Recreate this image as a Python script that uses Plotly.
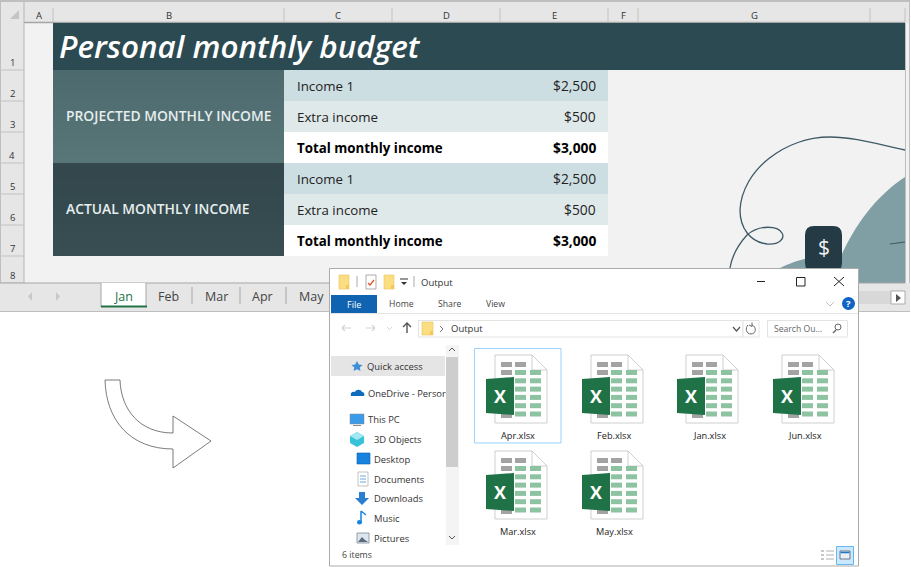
import plotly.graph_objects as go

# ---------- content ----------
TITLE = "Personal monthly budget"
COLUMN_LETTERS = ["A", "B", "C", "D", "E", "F", "G"]
COLUMN_EDGES = [24, 53, 284, 392, 500, 608, 638, 870, 905]
ROW_NUMBERS = ["1", "2", "3", "4", "5", "6", "7", "8"]
ROW_EDGES = [23, 70, 101, 132, 163, 194, 225, 256, 283]
SECTIONS = ["PROJECTED MONTHLY INCOME", "ACTUAL MONTHLY INCOME"]
ITEM_LABELS = ["Income 1", "Extra income", "Total monthly income"]
ITEM_VALUES = ["$2,500", "$500", "$3,000"]
SHEET_TABS = ["Jan", "Feb", "Mar", "Apr", "May"]
TAB_CENTERS = [123, 168, 216, 262, 311]
FILES_ROW1 = ["Apr.xlsx", "Feb.xlsx", "Jan.xlsx", "Jun.xlsx"]
FILES_ROW2 = ["Mar.xlsx", "May.xlsx"]
NAV_ITEMS = ["Quick access", "OneDrive - Persor", "This PC", "3D Objects", "Desktop",
             "Documents", "Downloads", "Music", "Pictures"]
NAV_X = [367, 368, 368, 374, 374, 374, 374, 374, 374]
NAV_Y = [366, 393, 419, 439, 459, 479, 498, 518, 538]
RIBBON = ["Home", "Share", "View"]
RIBBON_X = [401, 449, 495]

FONT = "Open Sans"
shapes, notes = [], []


def rect(x0, y0, x1, y1, fill="rgba(0,0,0,0)", line=None, w=1):
    shapes.append(dict(type="rect", x0=x0, y0=y0, x1=x1, y1=y1, fillcolor=fill,
                       line=dict(color=line or "rgba(0,0,0,0)", width=w if line else 0)))


def path(d, fill="rgba(0,0,0,0)", line=None, w=1):
    shapes.append(dict(type="path", path=d, fillcolor=fill,
                       line=dict(color=line or "rgba(0,0,0,0)", width=w if line else 0)))


def seg(x0, y0, x1, y1, color, w=1):
    shapes.append(dict(type="line", x0=x0, y0=y0, x1=x1, y1=y1, line=dict(color=color, width=w)))


def text(x, y, s, size=10, color="#333333", anchor="left", family=FONT, weight=None):
    f = dict(family=family, size=size, color=color)
    if weight:
        f["weight"] = weight
    notes.append(dict(x=x, y=y, text=s, showarrow=False, xanchor=anchor, yanchor="middle",
                      xref="x", yref="y", align=anchor, borderpad=0, borderwidth=0, font=f))


def folder(x, y, w=11, h=14):
    rect(x, y, x + w, y + h, "#FBDD82", "#E8C25C", 0.6)
    rect(x + w - 3, y + h - 4, x + w, y + h, "#F2C75C")


def rounded(x0, y0, x1, y1, r):
    return (f"M{x0+r},{y0} L{x1-r},{y0} Q{x1},{y0} {x1},{y0+r} L{x1},{y1-r} Q{x1},{y1} {x1-r},{y1} "
            f"L{x0+r},{y1} Q{x0},{y1} {x0},{y1-r} L{x0},{y0+r} Q{x0},{y0} {x0+r},{y0} Z")


# ---------- Excel window ----------
rect(0, 0, 911, 567, "#FFFFFF")
rect(0, 0, 910, 312, "#F2F2F2")
rect(0, 0, 910, 23, "#E6E6E6")
rect(0, 0, 24, 283, "#E6E6E6")
seg(0, 1, 910, 1, "#BFBFBF", 2)
seg(0.5, 0, 0.5, 312, "#BFBFBF", 1)
seg(909.5, 0, 909.5, 312, "#BFBFBF", 1)
seg(0, 311.5, 910, 311.5, "#BFBFBF", 1)
seg(24, 22.5, 905, 22.5, "#A6A6A6", 1.5)
seg(24, 2, 24, 283, "#B5B5B5", 1)
path("M19,10 L19,19 L10,19 Z", "#C4C4C4")
for edge in COLUMN_EDGES[1:]:
    seg(edge, 8, edge, 22, "#C2C2C2", 1)
for i, letter in enumerate(COLUMN_LETTERS):
    text((COLUMN_EDGES[i] + COLUMN_EDGES[i + 1]) / 2, 15, letter, 9.5, "#333333", "center")
for i, number in enumerate(ROW_NUMBERS):
    text(12, ROW_EDGES[i + 1] - 8, number, 9.5, "#333333", "center")
    seg(0, ROW_EDGES[i + 1], 24, ROW_EDGES[i + 1], "#C2C2C2", 1)

# banner and cells
rect(53, 23, 905, 70, "#2C4A51")
text(59, 45, f"<i>{TITLE}</i>", 31.4, "#FFFFFF", weight=600)
START = ["#4D6A6E", "#33474C"]
END = ["#587578", "#384E52"]


def mix(a, b, t):
    return "#" + "".join(f"{round(int(a[i:i+2],16)*(1-t)+int(b[i:i+2],16)*t):02X}" for i in (1, 3, 5))


BANDS = ["#CDDEE3", "#E0E9EA", "#FFFFFF"]
for s, section in enumerate(SECTIONS):
    top = ROW_EDGES[1 + 3 * s]
    bottom = ROW_EDGES[4 + 3 * s]
    for k in range(12):
        rect(53, round(top + (bottom - top) * k / 12), 284, bottom, mix(START[s], END[s], k / 11))
    text(66, (top + bottom) / 2 - 1, section, 13.85, "#E6EEEE", weight=600)
    for i in range(3):
        y0, y1 = ROW_EDGES[1 + 3 * s + i], ROW_EDGES[2 + 3 * s + i]
        rect(284, y0, 608, y1, BANDS[i])
        bold = i == 2
        lab = f"<b>{ITEM_LABELS[i]}</b>" if bold else ITEM_LABELS[i]
        val = f"<b>{ITEM_VALUES[i]}</b>" if bold else ITEM_VALUES[i]
        text(297, (y0 + y1) / 2, lab, 13.3, "#000000" if bold else "#222222")
        text(596, (y0 + y1) / 2, val, 13.8, "#000000" if bold else "#222222", "right")

# decoration
path("M905,177 C875,197 855,225 841,256 L841,284 L905,284 Z", "#7F9FA4")
path("M776,270 C790,263 800,259 812,258 L842,254 L842,284 L776,284 Z", "#7F9FA4")
path("M905,150 C880,145 855,137 830,137 C785,137 742,170 740,210 C740,228 750,242 767,244 "
     "C780,245 785,238 782,233 C778,226 760,224 747,235 C738,245 732,255 730,268",
     line="#3E5A66", w=1.3)
seg(890, 244, 905, 242, "#3E5A66", 1.2)
seg(905.5, 23, 905.5, 283, "#BDBDBD", 1)
path(rounded(805, 226, 842, 272, 9), "#243A45")
text(823.5, 247, "$", 21, "#F2F2F2", "center")

# sheet tabs
rect(0, 283, 910, 311, "#E6E6E6")
seg(0, 283, 905, 283, "#A6A6A6", 1)
rect(101, 283, 146, 306, "#FFFFFF")
seg(101, 283, 101, 307, "#A6A6A6", 1)
seg(146, 283, 146, 307, "#A6A6A6", 1)
seg(101, 306.5, 147, 306.5, "#217346", 2)
for x in [192, 240, 286]:
    seg(x, 287, x, 304, "#A6A6A6", 1)
for x, dir_ in [(30, -1), (58, 1)]:
    path(f"M{x-dir_*2},292 L{x+dir_*2},296.5 L{x-dir_*2},301 Z", "#C8C8C8")
for i, tab in enumerate(SHEET_TABS):
    text(TAB_CENTERS[i], 296, tab, 12.5, "#217346" if i == 0 else "#444444", "center")
rect(858, 291, 891, 304, "#D8D8D8")
rect(891, 291, 905, 304, "#FFFFFF", "#ABABAB", 1)
path("M896,294 L896,302 L901,298 Z", "#555555")

# big arrow
path("M105,380 L120,380 C121,410 140,433 173,433 L173,416 L211,441 L173,468 L173,449 "
     "C130,449 106,420 105,380 Z", "#FFFFFF", "#444444", 0.7)

# ---------- Explorer window ----------
rect(329.5, 268.5, 858.5, 566, "#FFFFFF", "#ABABAB", 1)
folder(339, 275, 10, 14)
seg(357, 276, 357, 287, "#AAAAAA", 1)
rect(366, 275, 376, 289, "#FFFFFF", "#8A8A8A", 0.7)
path("M368,283 L370,285 L374,280", line="#E0552E", w=1.3)
folder(384, 275, 10, 14)
seg(400, 279, 408, 279, "#333333", 1)
path("M401,282 L407,282 L404,285 Z", "#333333")
seg(414, 276, 414, 287, "#AAAAAA", 1)
text(421, 282, "Output", 9.5, "#333333")
seg(757, 281.5, 765, 281.5, "#222222", 1)
rect(796.5, 277.5, 805, 286, "#FFFFFF", "#222222", 1)
seg(834, 277, 844, 286, "#222222", 1)
seg(844, 277, 834, 286, "#222222", 1)

rect(331, 295, 377, 313, "#0F63B0")
text(354, 304, "File", 9, "#FFFFFF", "center")
for i, item in enumerate(RIBBON):
    text(RIBBON_X[i], 304, item, 8.7, "#444444", "center")
seg(330, 313.5, 858, 313.5, "#E4E4E4", 1)
path("M826,302 L830,306 L834,302", line="#C0C0C0", w=1)
shapes.append(dict(type="circle", x0=842, y0=297, x1=855, y1=310, fillcolor="#0F63C4", line=dict(width=0)))
text(848.5, 303.5, "<b>?</b>", 9.5, "#FFFFFF", "center")

# nav bar
path("M342,328 L351,328 M342,328 L345,325 M342,328 L345,331", line="#D4D4D4", w=1.2)
path("M375,328 L366,328 M375,328 L372,325 M375,328 L372,331", line="#D4D4D4", w=1.2)
path("M387,327 L389.5,329.5 L392,327", line="#D4D4D4", w=1)
path("M407,333 L407,323 M403,327 L407,323 L411,327", line="#555555", w=1.4)
rect(418.5, 320.5, 743, 337, "#FFFFFF", "#E3E3E3", 1)
folder(422, 322, 11, 13)
path("M440,326 L443,329 L440,332", line="#777777", w=1)
text(451, 328.5, "Output", 9.5, "#333333")
path("M733,327 L736.5,331 L740,327", line="#555555", w=1.2)
rect(743, 320.5, 759, 337, "#FFFFFF", "#E3E3E3", 1)
path("M748,325 C745,328 746,334 751,334 C756,334 757,327 752,325 M752,322.5 L752,326.5 L749,325", line="#666666", w=1)
rect(767.5, 320.5, 847.5, 337, "#FFFFFF", "#E3E3E3", 1)
text(774, 328.5, "Search Ou...", 8.6, "#666666")
shapes.append(dict(type="circle", x0=835, y0=324, x1=841, y1=330, line=dict(color="#666666", width=1)))
seg(836, 330, 833, 333, "#666666", 1.4)

# sidebar
rect(331, 356, 445, 376, "#E5E5E5")
rect(446, 345, 459, 545, "#F4F4F4")
rect(446, 357, 458, 467, "#CDCDCD")
path("M449,351 L452,348 L455,351", line="#555555", w=1)
path("M449,536 L452,539 L455,536", line="#555555", w=1)
for i, item in enumerate(NAV_ITEMS):
    text(NAV_X[i], NAV_Y[i], item, 9.4, "#333333")
path("M357,361 L358.8,364.5 L362.5,365 L359.8,367.5 L360.5,371 L357,369.3 L353.5,371 L354.3,367.5 L351.5,365 L355.2,364.5 Z", "#3F8FD6")
path("M351,396 C350,393 352,391 355,392 C356,389 361,389 362,392 C364,392 365,394 364,396 Z", "#0F6CBD")
rect(350, 414, 364, 424, "#3C9BE8", "#8A8A8A", 0.5)
seg(353, 425.5, 361, 425.5, "#8A8A8A", 1)
path("M357,432 L364,436 L364,443 L357,447 L350,443 L350,436 Z", "#38C2D9")
path("M357,432 L364,436 L357,440 L350,436 Z", "#A4E8F2")
rect(357, 453, 370, 464, "#1683E0", "#0F5FA8", 0.6)
rect(358, 472, 368, 486, "#FFFFFF", "#9A9A9A", 0.6)
for yy in [476, 479, 482]:
    seg(360, yy, 366, yy, "#6AA8DD", 1)
path("M359,492 L365,492 L365,498 L369,498 L362,505 L355,498 L359,498 Z", "#2A7FD0")
path("M361,511 L361,522 M361,511 L366,515", line="#1683E0", w=1.5)
shapes.append(dict(type="circle", x0=357, y0=520, x1=362, y1=524.5, fillcolor="#1683E0", line=dict(width=0)))
rect(357, 533, 369, 543, "#DDE6EE", "#7F8C99", 0.8)
path("M358,542 L362,537 L365,540 L368,542 Z", "#5A6B7B")

# status bar
text(342, 555, "6 items", 8.8, "#444444")
for yy in [551, 555, 559]:
    rect(821, yy - 1, 824, yy + 1, "#C8C8C8")
    seg(826, yy, 834, yy, "#B0B0B0", 1)
rect(836.5, 546.5, 853.5, 564.5, "#CCE8FF", "#66B8EE", 1)
rect(840, 551, 850, 559, "#E9EFF5", "#50606E", 0.8)
seg(840.5, 552.5, 849.5, 552.5, "#1E75C8", 1.5)

# file tiles
rect(474.5, 348.5, 561, 443, "#FFFFFF", "#99D1FF", 1)
ICON_CENTERS = [517, 613, 708, 804]
ICON_TOPS = [355, 451]
LABEL_Y = [436, 532]


def xlsx_icon(cx, top):
    x0 = cx - 22
    x1 = cx + 30
    path(f"M{x0},{top} L{x1-15},{top} L{x1},{top+15} L{x1},{top+68} L{x0},{top+68} Z", "#FFFFFF", "#CFCFCF", 1)
    path(f"M{x1-15},{top} L{x1-15},{top+15} L{x1},{top+15}", line="#CFCFCF", w=1)
    for c in (0, 1):
        rect(x0 + 6 + c * 14, top + 7, x0 + 17 + c * 14, top + 12, "#A3A3A3")
    rect(x0 + 6, top + 15, x0 + 17, top + 20, "#A3A3A3")
    rect(x0 + 6, top + 59, x0 + 17, top + 63, "#A3A3A3")
    for r in range(6):
        for c in (0, 1):
            rect(x0 + 20 + c * 15, top + 15 + r * 8.3, x0 + 31 + c * 15, top + 20 + r * 8.3, "#8DC3A1")
    path(f"M{cx-31},{top+24} L{cx-3},{top+22} L{cx-3},{top+60} L{cx-31},{top+58} Z", "#1F7246")
    text(cx - 17, top + 41, "<b>X</b>", 18, "#FFFFFF", "center")


for r, names in enumerate([FILES_ROW1, FILES_ROW2]):
    for c, name in enumerate(names):
        xlsx_icon(ICON_CENTERS[c], ICON_TOPS[r])
        text(ICON_CENTERS[c] + 1, LABEL_Y[r] - 0.5, name, 9.2, "#222222", "center")

fig = go.Figure()
fig.update_layout(
    width=911, height=567, margin=dict(l=0, r=0, t=0, b=0), autosize=False,
    paper_bgcolor="#FFFFFF", plot_bgcolor="#FFFFFF", showlegend=False,
    xaxis=dict(range=[0, 911], visible=False, fixedrange=True),
    yaxis=dict(range=[567, 0], visible=False, fixedrange=True),
    shapes=shapes, annotations=notes,
)
fig.write_html("out.html", config={"displayModeBar": False},
               post_script="document.body.style.margin='0';document.body.style.overflow='hidden';")
